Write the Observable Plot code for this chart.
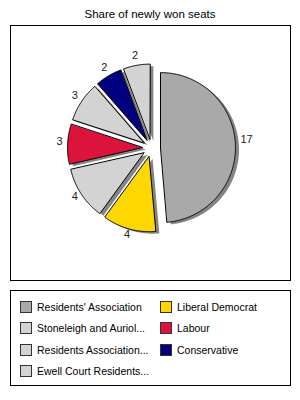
<!DOCTYPE html>
<html>
<head>
<meta charset="utf-8">
<script src="https://cdn.jsdelivr.net/npm/d3@7"></script>
<script src="https://cdn.jsdelivr.net/npm/@observablehq/plot@0.6"></script>
<style>
  body { margin:0; width:300px; height:400px; position:relative; background:#fff; font-family:"Liberation Sans", Arial, sans-serif; color:#000; overflow:hidden; }
  #title { position:absolute; left:0; top:8px; width:300px; text-align:center; font-size:11.5px; line-height:13px; }
  #box { position:absolute; left:10px; top:25px; width:279px; height:254px; border:1px solid #000; }
  #legend { position:absolute; left:10px; top:290px; width:279px; height:94px; border:1px solid #000; }
  #chart { position:absolute; left:0; top:0; }
  .item { position:absolute; font-size:10.5px; line-height:12px; white-space:nowrap; }
  .sw { position:absolute; width:10px; height:10px; border:1px solid #333; }
  .lab { position:absolute; left:17px; top:0px; }
</style>
</head>
<body>
<div id="title">Share of newly won seats</div>
<div id="box"></div>
<div id="legend"></div>
<div id="chart"></div>
<script>
const parties = ["Residents' Association","Liberal Democrat","Stoneleigh and Auriol...","Labour","Residents Association...","Conservative","Ewell Court Residents..."];
const seats = [17, 4, 4, 3, 3, 2, 2];
const colors = ["#a9a9a9","#ffd700","#d3d3d3","#dc143c","#d3d3d3","#000080","#d3d3d3"];

const R = 75;           // pixel radius
const explode = 9 / R;  // explode distance in radius units
const shadowDx = 3.5 / R, shadowDy = -2 / R;
const labelR = 92 / R;

const arcs = d3.pie().sort(null).value(d => d)(seats);
const slices = [];
const shadows = [];
const labels = [];
arcs.forEach((a, i) => {
  const mid = (a.startAngle + a.endAngle) / 2;
  const ox = Math.sin(mid) * explode, oy = Math.cos(mid) * explode;
  const pts = [[ox, oy]];
  const n = Math.max(4, Math.ceil((a.endAngle - a.startAngle) / 0.01));
  for (let k = 0; k <= n; k++) {
    const t = a.startAngle + (a.endAngle - a.startAngle) * k / n;
    pts.push([ox + Math.sin(t), oy + Math.cos(t)]);
  }
  pts.forEach(([x, y]) => {
    slices.push({key: i, x, y, color: colors[i]});
    shadows.push({key: i, x: x + shadowDx, y: y + shadowDy});
  });
  labels.push({x: Math.sin(mid) * labelR, y: Math.cos(mid) * labelR, text: String(seats[i]), anchor: Math.sin(mid) > 0.5 ? "start" : "middle"});
});

const cx = 151, cy = 147.5, W = 300, H = 290;
const plot = Plot.plot({
  width: W, height: H,
  margin: 0,
  x: {domain: [-cx / R, (W - cx) / R], axis: null},
  y: {domain: [(cy - H) / R, cy / R], axis: null},
  color: {type: "identity"},
  marks: [
    Plot.line(shadows, {x: "x", y: "y", z: "key", curve: "linear-closed", fill: "#858585", stroke: "none"}),
    Plot.line(slices, {x: "x", y: "y", z: "key", curve: "linear-closed", fill: "color", stroke: "#000", strokeWidth: 1}),
    Plot.text(labels.filter(d => d.anchor === "middle"), {x: "x", y: "y", text: "text", fontSize: 11, fill: "#222", dy: -2, textAnchor: "middle"}),
    Plot.text(labels.filter(d => d.anchor === "start"), {x: "x", y: "y", text: "text", fontSize: 11, fill: "#222", dy: -4, dx: -3, textAnchor: "start"})
  ]
});
plot.style.fontFamily = '"Liberation Sans", Arial, sans-serif';
plot.style.background = "transparent";
document.getElementById("chart").appendChild(plot);

// Legend (row-major, two columns)
const legend = document.getElementById("legend");
parties.forEach((p, i) => {
  const col = i % 2, row = Math.floor(i / 2);
  const item = document.createElement("div");
  item.className = "item";
  item.style.left = (9 + col * 140) + "px";
  item.style.top = (10 + row * 21.3) + "px";
  const sw = document.createElement("div");
  sw.className = "sw";
  sw.style.background = colors[i];
  const lab = document.createElement("div");
  lab.className = "lab";
  lab.textContent = p;
  item.appendChild(sw);
  item.appendChild(lab);
  legend.appendChild(item);
});
</script>
</body>
</html>
